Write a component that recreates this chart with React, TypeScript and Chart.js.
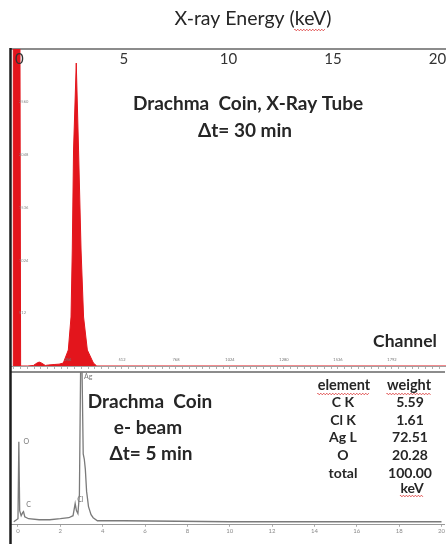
import React, { useEffect, useRef } from "react";
import { Chart, registerables } from "chart.js";

Chart.register(...registerables);

// ---------- data ----------
// Top panel: X-ray tube excited spectrum (energy in keV, counts)
const TOP_ENERGY_KEV = [
  -0.2, -0.19, 0.12, 0.16, 0.5, 0.77, 0.95, 1.05, 1.15, 1.34, 1.5, 1.8, 2.0, 2.2,
  2.44, 2.57, 2.63, 2.69, 2.82, 2.93, 3.05, 3.17, 3.35, 3.64, 3.8, 20.5,
];
const TOP_COUNTS = [
  0, 4000, 4000, 0, 0, 5, 30, 38, 30, 5, 10, 15, 18, 29,
  155, 475, 1124, 2093, 2936, 2093, 1124, 475, 155, 29, 0, 0,
];

// Bottom panel: e-beam (SEM-EDS) spectrum (energy in keV, counts)
const BOTTOM_ENERGY_KEV = [
  -0.2, 0.0, 0.04, 0.08, 0.15, 0.22, 0.26, 0.32, 0.5, 1.0, 1.5, 2.0, 2.4, 2.6,
  2.7, 2.76, 2.83, 2.9, 2.96, 3.02, 3.08, 3.13, 3.18, 3.24, 3.33, 3.45, 3.55,
  3.75, 5, 10, 15, 20,
];
const BOTTOM_COUNTS = [
  3, 6, 82, 14, 9, 12, 13, 8, 6, 5, 5, 6, 7, 9,
  21, 14, 11, 30, 160, 160, 70, 65, 55, 33, 18, 10, 7,
  4, 4, 3, 3, 3,
];

const KEV_TICKS_TOP = [0, 5, 10, 15, 20];
const KEV_TICKS_BOTTOM = [0, 2, 4, 6, 8, 10, 12, 14, 16, 18, 20];
const CHANNEL_LABELS = [256, 512, 768, 1024, 1280, 1536, 1792];
const CHANNEL_MINOR_STEP = 32;
const TOP_COUNT_TICKS = [512, 1024, 1536, 2048, 2560];

const ELEMENTS = ["C K", "Cl K", "Ag L", "O", "total"];
const WEIGHTS = ["5.59", "1.61", "72.51", "20.28", "100.00"];

const PEAK_TAG_TEXT = ["O", "C", "Cl", "Ag"];
const PEAK_TAG_KEV = [0.16, 0.3, 2.7, 3.02];
const PEAK_TAG_COUNTS = [82, 20, 25, 146];

// ---------- styling / layout ----------
const FONT = "Lato, 'Open Sans', 'Liberation Sans', sans-serif";
const TEXT = "#262626";
const RED = "#e3151c";
const BOTTOM_OFFSET = 371;

function drawText(
  ctx: CanvasRenderingContext2D,
  s: string,
  x: number,
  y: number,
  font: string,
  color: string,
  align: CanvasTextAlign = "center"
) {
  ctx.save();
  ctx.font = font;
  ctx.fillStyle = color;
  ctx.textAlign = align;
  ctx.textBaseline = "middle";
  ctx.fillText(s, x, y);
  ctx.restore();
}

function squiggle(ctx: CanvasRenderingContext2D, x0: number, x1: number, y: number) {
  ctx.save();
  ctx.strokeStyle = "#e05050";
  ctx.lineWidth = 1;
  ctx.beginPath();
  ctx.moveTo(x0, y);
  let up = true;
  for (let x = x0; x <= x1; x += 1.5) {
    ctx.lineTo(x, y + (up ? -0.8 : 0.8));
    up = !up;
  }
  ctx.stroke();
  ctx.restore();
}

function frameLine(ctx: CanvasRenderingContext2D, x: number, y0: number, y1: number) {
  ctx.save();
  ctx.strokeStyle = "#1c1c1c";
  ctx.lineWidth = 2.5;
  ctx.beginPath();
  ctx.moveTo(x, y0);
  ctx.lineTo(x, y1);
  ctx.stroke();
  ctx.restore();
}

function textWidth(ctx: CanvasRenderingContext2D, s: string, font: string) {
  ctx.save();
  ctx.font = font;
  const w = ctx.measureText(s).width;
  ctx.restore();
  return w;
}

const topPlugin = {
  id: "topDecor",
  afterDraw(chart: any) {
    const ctx: CanvasRenderingContext2D = chart.ctx;
    const xs = chart.scales.x;
    const ch = chart.scales.ch;
    const ys = chart.scales.y;
    const area = chart.chartArea;

    // left frame line
    frameLine(ctx, area.left - 0.5, area.top - 1, chart.height);

    // title
    const tFont = `19.5px ${FONT}`;
    const tText = "X-ray Energy (keV)";
    const tx = 253;
    const ty = 19;
    drawText(ctx, tText, tx, ty, tFont, TEXT);
    const w = textWidth(ctx, tText, tFont);
    const pre = textWidth(ctx, "X-ray Energy (", tFont);
    const kw = textWidth(ctx, "keV", tFont);
    squiggle(ctx, tx - w / 2 + pre, tx - w / 2 + pre + kw, ty + 11);

    // keV tick labels (inside, below the top axis line)
    KEV_TICKS_TOP.forEach((v) => {
      drawText(ctx, String(v), xs.getPixelForValue(v) + 2, area.top + 10, `15px ${FONT}`, "#333");
    });

    // tiny count labels along the left axis
    TOP_COUNT_TICKS.forEach((v) => {
      drawText(ctx, String(v), area.left + 8, ys.getPixelForValue(v), `4px ${FONT}`, "#888", "left");
    });

    // channel tick labels (tiny, above the channel axis)
    CHANNEL_LABELS.forEach((v) => {
      drawText(ctx, String(v), ch.getPixelForValue(v), area.bottom - 6, `4px ${FONT}`, "#777");
    });

    // annotations
    drawText(ctx, "Drachma  Coin, X-Ray Tube", 248, 104, `bold 19px ${FONT}`, TEXT);
    drawText(ctx, "\u0394t= 30 min", 245, 131, `bold 19px ${FONT}`, TEXT);
    drawText(ctx, "Channel", 405, 341, `bold 17.5px ${FONT}`, TEXT);
  },
};

const bottomPlugin = {
  id: "bottomDecor",
  afterDraw(chart: any) {
    const ctx: CanvasRenderingContext2D = chart.ctx;
    const xs = chart.scales.x;
    const ys = chart.scales.y;
    const area = chart.chartArea;
    const o = BOTTOM_OFFSET;

    frameLine(ctx, area.left - 0.5, 0, chart.height);

    // peak tags
    PEAK_TAG_TEXT.forEach((t, i) => {
      drawText(
        ctx,
        t,
        xs.getPixelForValue(PEAK_TAG_KEV[i]) + 2,
        ys.getPixelForValue(PEAK_TAG_COUNTS[i]),
        `7px ${FONT}`,
        "#777",
        "left"
      );
    });

    // sample annotation
    drawText(ctx, "Drachma  Coin", 150, 402 - o, `bold 19px ${FONT}`, TEXT);
    drawText(ctx, "e- beam", 148, 428 - o, `bold 19px ${FONT}`, TEXT);
    drawText(ctx, "\u0394t= 5 min", 151, 454 - o, `bold 19px ${FONT}`, TEXT);

    // composition table
    const hFont = `bold 14.5px ${FONT}`;
    const rFont = `bold 14px ${FONT}`;
    const cx1 = 344;
    const cx2 = 409;
    const hy = 385 - o;
    drawText(ctx, "element", cx1, hy, hFont, TEXT);
    drawText(ctx, "weight", cx2, hy, hFont, TEXT);
    const we = textWidth(ctx, "element", hFont);
    const ww = textWidth(ctx, "weight", hFont);
    squiggle(ctx, cx1 - we / 2, cx1 + we / 2, hy + 9);
    squiggle(ctx, cx2 - ww / 2, cx2 + ww / 2, hy + 9);
    const rowStep = 17.6;
    ELEMENTS.forEach((e, i) => {
      const y = hy + rowStep * (i + 1);
      drawText(ctx, e, cx1 - 1, y, rFont, TEXT);
      drawText(ctx, WEIGHTS[i], cx2 + 1, y, rFont, TEXT);
    });

    const kFont = `bold 14px ${FONT}`;
    const ky = 488 - o;
    drawText(ctx, "keV", 412, ky, kFont, TEXT);
    const kw = textWidth(ctx, "keV", kFont);
    squiggle(ctx, 412 - kw / 2, 412 + kw / 2, ky + 8);
  },
};

function makeTop(canvas: HTMLCanvasElement) {
  return new Chart(canvas, {
    type: "line",
    data: {
      datasets: [
        {
          data: TOP_ENERGY_KEV.map((x, i) => ({ x, y: TOP_COUNTS[i] })),
          borderColor: RED,
          backgroundColor: RED,
          borderWidth: 1,
          fill: "origin",
          pointRadius: 0,
          tension: 0,
          xAxisID: "x",
          yAxisID: "y",
        },
      ],
    },
    options: {
      responsive: false,
      animation: false,
      devicePixelRatio: 1,
      events: [],
      layout: { padding: { top: 49, left: 11, right: 0, bottom: 2 } },
      plugins: { legend: { display: false }, tooltip: { enabled: false }, title: { display: false } },
      scales: {
        x: {
          type: "linear",
          position: "top",
          min: -0.3,
          max: 20.5,
          ticks: { display: false },
          grid: { display: false, drawTicks: false },
          border: { display: true, color: "#8c8c8c", width: 2 },
        },
        ch: {
          type: "linear",
          position: "bottom",
          min: -14,
          max: 2048,
          afterBuildTicks: (s: any) => {
            const t = [];
            for (let v = 0; v <= 2048; v += CHANNEL_MINOR_STEP) t.push({ value: v });
            s.ticks = t;
          },
          ticks: { display: false },
          grid: { display: true, drawOnChartArea: false, tickLength: 3, color: "#b0b0b0" },
          border: { display: true, color: "#a0a0a0", width: 1, dash: [2, 2] },
        },
        y: {
          type: "linear",
          display: false,
          min: 0,
          max: 3072,
        },
      },
    },
    plugins: [topPlugin],
  } as any);
}

function makeBottom(canvas: HTMLCanvasElement) {
  return new Chart(canvas, {
    type: "line",
    data: {
      datasets: [
        {
          data: BOTTOM_ENERGY_KEV.map((x, i) => ({ x, y: BOTTOM_COUNTS[i] })),
          borderColor: "#7a7a7a",
          borderWidth: 1.3,
          fill: false,
          pointRadius: 0,
          tension: 0,
          xAxisID: "x",
          yAxisID: "y",
        },
      ],
    },
    options: {
      responsive: false,
      animation: false,
      devicePixelRatio: 1,
      events: [],
      layout: { padding: { top: 1, left: 11, right: 0, bottom: 8 } },
      plugins: { legend: { display: false }, tooltip: { enabled: false }, title: { display: false } },
      scales: {
        x: {
          type: "linear",
          position: "bottom",
          min: -0.33,
          max: 20.14,
          afterBuildTicks: (s: any) => {
            s.ticks = KEV_TICKS_BOTTOM.map((v) => ({ value: v }));
          },
          ticks: { font: { size: 6, family: FONT }, color: "#8a8a8a", padding: 1, autoSkip: false, maxRotation: 0 },
          grid: { display: true, drawOnChartArea: false, tickLength: 2, color: "#aaa" },
          border: { display: true, color: "#999", width: 1, dash: [2, 1] },
        },
        xt: {
          type: "linear",
          position: "top",
          min: -0.33,
          max: 20.14,
          ticks: { display: false },
          grid: { display: false, drawTicks: false },
          border: { display: true, color: "#8c8c8c", width: 2 },
        },
        y: {
          type: "linear",
          display: false,
          min: 0,
          max: 151,
        },
      },
    },
    plugins: [bottomPlugin],
  } as any);
}

export default function App() {
  const topRef = useRef<HTMLCanvasElement>(null);
  const botRef = useRef<HTMLCanvasElement>(null);

  useEffect(() => {
    const top = makeTop(topRef.current!);
    const bot = makeBottom(botRef.current!);
    return () => {
      top.destroy();
      bot.destroy();
    };
  }, []);

  return (
    <div
      style={{
        position: "fixed",
        left: 0,
        top: 0,
        width: 446,
        height: 544,
        background: "#fff",
        overflow: "hidden",
      }}
    >
      <canvas
        ref={topRef}
        width={446}
        height={371}
        style={{ position: "absolute", left: 0, top: 0, width: 446, height: 371, display: "block" }}
      />
      <canvas
        ref={botRef}
        width={446}
        height={173}
        style={{ position: "absolute", left: 0, top: BOTTOM_OFFSET, width: 446, height: 173, display: "block" }}
      />
    </div>
  );
}
